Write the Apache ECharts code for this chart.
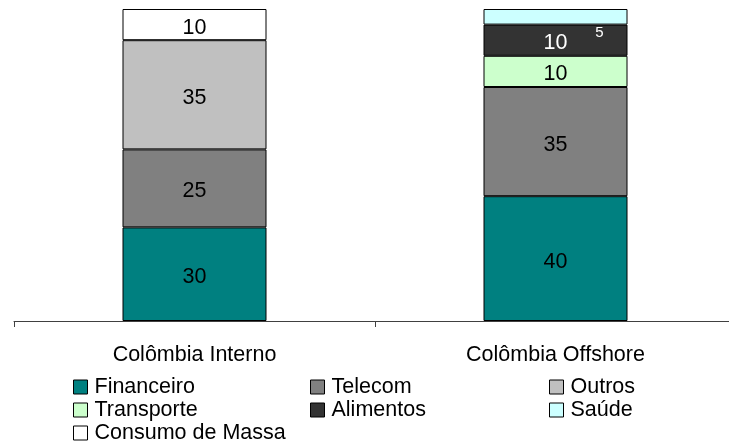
<!DOCTYPE html>
<html>
<head>
<meta charset="utf-8">
<script src="https://cdn.jsdelivr.net/npm/echarts@6/dist/echarts.min.js"></script>
<style>
  html, body { margin: 0; padding: 0; background: #fff; overflow: hidden; }
  #chart { width: 740px; height: 445px; }
</style>
</head>
<body>
<div id="chart"></div>
<script>
var categories = ['Colômbia Interno', 'Colômbia Offshore'];
var financeiro = [30, 40];
var telecom = [25, 35];
var outros = [35, '-'];
var transporte = ['-', 10];
var alimentos = ['-', 10];
var saude = ['-', 5];
var consumo = [10, '-'];

var chart = echarts.init(document.getElementById('chart'));
var font = 'Liberation Sans, Arial, sans-serif';

function barSeries(name, data, color, labelColor, extraLabel) {
  var label = {
    show: true,
    position: 'inside',
    offset: [0, 3],
    color: labelColor,
    fontSize: 21.5,
    fontFamily: font
  };
  if (extraLabel) {
    for (var k in extraLabel) label[k] = extraLabel[k];
  }
  return {
    name: name,
    type: 'bar',
    stack: 'total',
    barWidth: 144,
    data: data,
    itemStyle: { color: color, borderColor: '#000', borderWidth: 1 },
    label: label
  };
}

// a legend per entry so the 3-column grid lines up like the original
function legendItem(name, left, top) {
  return {
    left: left,
    top: top,
    padding: 0,
    itemWidth: 14,
    itemHeight: 14,
    icon: 'rect',
    data: [name],
    itemStyle: { borderColor: '#000', borderWidth: 1 },
    textStyle: { fontSize: 21.5, fontFamily: font, color: '#000', padding: [0, 0, 0, 2] }
  };
}

var option = {
  animation: false,
  grid: { left: 14, top: 9, width: 722, height: 312 },
  legend: [
    legendItem('Financeiro', 73, 376),
    legendItem('Telecom', 310, 376),
    legendItem('Outros', 549, 376),
    legendItem('Transporte', 73, 399),
    legendItem('Alimentos', 310, 399),
    legendItem('Saúde', 549, 399),
    legendItem('Consumo de Massa', 73, 422)
  ],
  xAxis: {
    type: 'category',
    data: categories,
    axisLine: { lineStyle: { color: '#404040', width: 1 } },
    axisTick: { show: true, length: 6, lineStyle: { color: '#404040' } },
    axisLabel: { fontSize: 21.5, fontFamily: font, color: '#000', margin: 23 }
  },
  yAxis: {
    type: 'value',
    min: 0,
    max: 100,
    show: false,
    splitLine: { show: false }
  },
  series: [
    barSeries('Financeiro', financeiro, '#008080', '#000'),
    barSeries('Telecom', telecom, '#808080', '#000'),
    barSeries('Outros', outros, '#C0C0C0', '#000'),
    barSeries('Transporte', transporte, '#CCFFCC', '#000'),
    barSeries('Alimentos', alimentos, '#333333', '#fff'),
    barSeries('Saúde', saude, '#CCFFFF', '#fff', { fontSize: 15, offset: [44, 16] }),
    barSeries('Consumo de Massa', consumo, '#FFFFFF', '#000')
  ]
};

chart.setOption(option);
</script>
</body>
</html>
